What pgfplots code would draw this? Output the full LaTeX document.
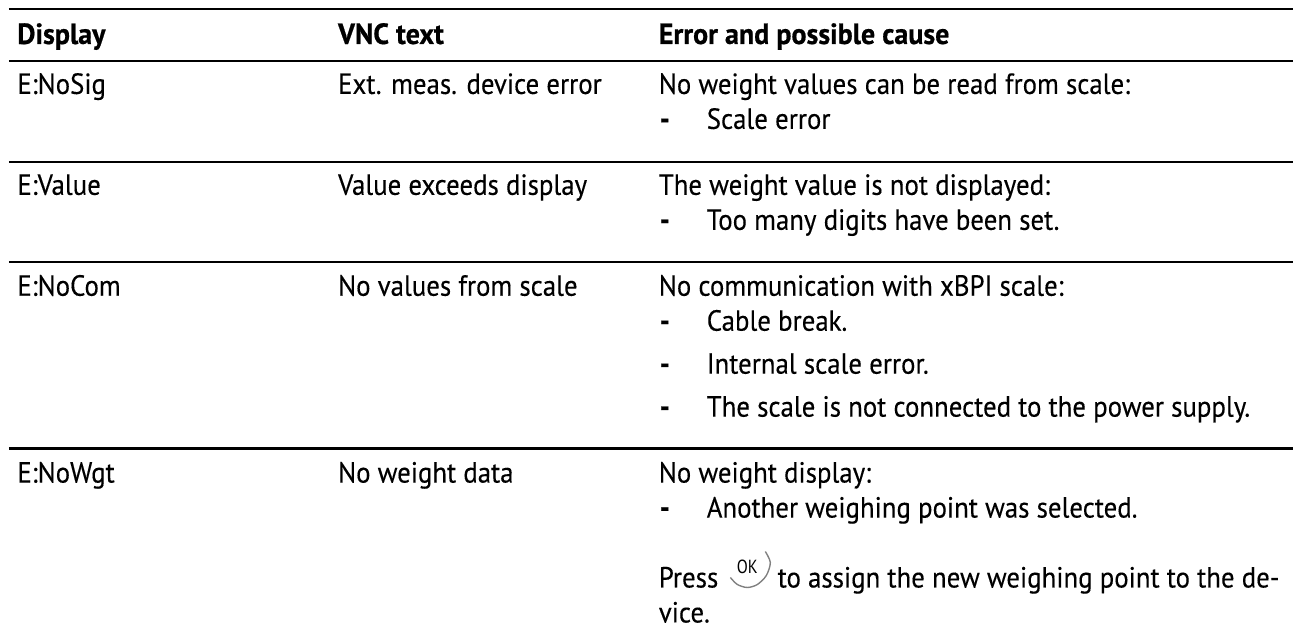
\documentclass[border=0pt]{standalone}
\usepackage{pgfplots}
\pgfplotsset{compat=1.18}
\usepackage{fontspec}
\setmainfont[FakeStretch=0.92,FakeBold=0.25]{PT Sans}
\newfontfamily\bff[FakeStretch=0.96,FakeBold=0.6]{PT Sans Bold}
\newfontfamily\okfont[FakeStretch=0.85]{PT Sans}
\newcommand{\T}[3]{\node[anchor=base west,inner sep=0pt,font=\fontsize{14.6}{16}\selectfont] at (axis cs:#1,#2) {#3};}
\newcommand{\B}[3]{\node[anchor=base west,inner sep=0pt,font=\bff\fontsize{14.6}{16}\selectfont] at (axis cs:#1,#2) {#3};}
\begin{document}
\begin{tikzpicture}
\begin{axis}[width=647pt,height=316pt,scale only axis,hide axis,clip=false,
  xmin=0,xmax=1294,ymin=0,ymax=632,y dir=reverse]
\path (axis cs:0,0) rectangle (axis cs:1294,632);
\addplot[black,line width=1.15pt] coordinates {(9,9) (1294,9)};
\addplot[black,line width=1.15pt] coordinates {(9,61) (1294,61)};
\addplot[black,line width=1.15pt] coordinates {(9,162) (1294,162)};
\addplot[black,line width=1.15pt] coordinates {(9,262) (1294,262)};
\addplot[black,line width=1.15pt] coordinates {(9,449) (1294,449)};
\addplot[gray,line width=0.7pt,smooth] coordinates {(731,578) (738,585) (748,588) (758,585) (767,576) (771,563) (766,552)};
\B{17}{44}{Display}
\B{338}{44}{VNC text}
\B{659}{44}{Error and possible cause}
\T{17}{94}{E:NoSig}
\T{338}{94}{Ext. meas. device error}
\T{659}{94}{No weight values can be read from scale:}
\B{660}{129}{-}
\T{707}{129}{Scale error}
\T{17}{195}{E:Value}
\T{338}{195}{Value exceeds display}
\T{659}{195}{The weight value is not displayed:}
\B{660}{230}{-}
\T{707}{230}{Too many digits have been set.}
\T{17}{296}{E:NoCom}
\T{338}{296}{No values from scale}
\T{659}{296}{No communication with xBPI scale:}
\B{660}{331}{-}
\T{707}{331}{Cable break.}
\B{660}{374}{-}
\T{707}{374}{Internal scale error.}
\B{660}{417}{-}
\T{707}{417}{The scale is not connected to the power supply.}
\T{17}{483}{E:NoWgt}
\T{338}{483}{No weight data}
\T{659}{483}{No weight display:}
\B{660}{518}{-}
\T{707}{518}{Another weighing point was selected.}
\T{659}{588}{Press}
\node[anchor=base,inner sep=0pt,font=\okfont\fontsize{9.5}{11}\selectfont] at (axis cs:748,574) {OK};
\T{778}{588}{to assign the new weighing point to the de-}
\T{659}{623}{vice.}
\end{axis}
\end{tikzpicture}
\end{document}
